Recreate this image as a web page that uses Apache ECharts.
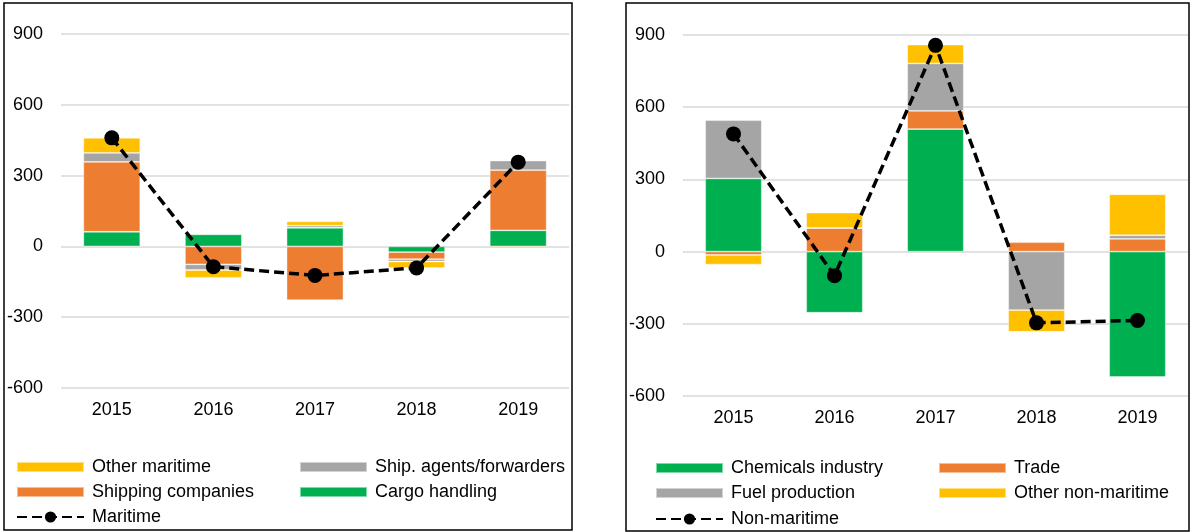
<!DOCTYPE html>
<html>
<head>
<meta charset="utf-8">
<script src="https://cdn.jsdelivr.net/npm/echarts@6/dist/echarts.min.js"></script>
<style>
html,body{margin:0;padding:0;background:#fff;}
#c{width:1192px;height:532px;}
</style>
</head>
<body>
<div id="c"></div>
<script>
var categories = ['2015','2016','2017','2018','2019'];
var yTicks = [-600, -300, 0, 300, 600, 900];

// Left panel: maritime
var cargoHandling     = [62, 51, 79, -24, 68];
var shippingCompanies = [296, -76, -228, -30, 255];
var shipAgents        = [38, -24, 9, -10, 41];
var otherMaritime     = [64, -33, 18, -27, -7];
var maritime          = [460, -86, -123, -91, 357];

// Right panel: non-maritime
var chemicals         = [304, -254, 509, 0, -521];
var trade             = [-14, 98, 76, 39, 53];
var fuelProduction    = [242, 0, 197, -243, 15];
var otherNonMaritime  = [-40, 64, 78, -90, 170];
var nonMaritime       = [489, -100, 857, -296, -286];

var C_GREEN = '#00B050', C_ORANGE = '#ED7D31', C_GRAY = '#A5A5A5', C_YELLOW = '#FFC000';
var FONT = 'Liberation Sans, Arial, sans-serif';

var chart = echarts.init(document.getElementById('c'), null, {renderer:'canvas'});

function xAxis(gi){
  return {type:'category', gridIndex:gi, data:categories,
    axisLine:{show:false}, axisTick:{show:false},
    axisLabel:{color:'#000', fontSize:18, fontFamily:FONT, margin:13},
    splitLine:{show:false}};
}
function yAxis(gi){
  return {type:'value', gridIndex:gi, min:yTicks[0], max:yTicks[yTicks.length-1], interval:300,
    axisLine:{show:false}, axisTick:{show:false},
    axisLabel:{color:'#000', fontSize:18, fontFamily:FONT, margin:18},
    splitLine:{lineStyle:{color:'#D9D9D9', width:1.5}}};
}
function bar(name, data, color, gi, stack){
  return {name:name, type:'bar', xAxisIndex:gi, yAxisIndex:gi, stack:stack, data:data,
    barWidth:'56%', itemStyle:{color:color, borderColor:'rgba(255,255,255,0.5)', borderWidth:0.8},
    emphasis:{disabled:true}, animation:false};
}
function line(name, data, gi){
  return {name:name, type:'line', xAxisIndex:gi, yAxisIndex:gi, data:data,
    symbol:'circle', symbolSize:15, z:10,
    lineStyle:{color:'#000', width:3.5, type:[10,5]},
    itemStyle:{color:'#000'}, emphasis:{disabled:true}, animation:false};
}
function legendItem(name, left, top, isLine){
  var o = {data:[name], left:left, top:top, orient:'horizontal', padding:0,
    itemWidth:67, itemHeight:isLine?14:10, selectedMode:false,
    textStyle:{color:'#000', fontSize:18, fontFamily:FONT, padding:[0,0,0,3]}};
  if(!isLine){ o.icon = 'rect'; }
  return o;
}

var option = {
  animation:false,
  backgroundColor:'#fff',
  grid:[
    {left:61, top:34, width:508, height:354},
    {left:683, top:35, width:505, height:361}
  ],
  xAxis:[xAxis(0), xAxis(1)],
  yAxis:[yAxis(0), yAxis(1)],
  legend:[
    legendItem('Other maritime', 16, 458),
    legendItem('Ship. agents/forwarders', 299, 458),
    legendItem('Shipping companies', 16, 483),
    legendItem('Cargo handling', 299, 483),
    legendItem('Maritime', 16, 508, true),
    legendItem('Chemicals industry', 655, 459),
    legendItem('Trade', 938, 459),
    legendItem('Fuel production', 655, 484),
    legendItem('Other non-maritime', 938, 484),
    legendItem('Non-maritime', 655, 510, true)
  ],
  graphic:[
    {type:'rect', shape:{x:4, y:3, width:568, height:527}, style:{fill:null, stroke:'#000', lineWidth:1.5}, silent:true, z:-1},
    {type:'rect', shape:{x:626, y:3, width:563, height:528}, style:{fill:null, stroke:'#000', lineWidth:1.5}, silent:true, z:-1}
  ],
  series:[
    bar('Cargo handling', cargoHandling, C_GREEN, 0, 'm'),
    bar('Shipping companies', shippingCompanies, C_ORANGE, 0, 'm'),
    bar('Ship. agents/forwarders', shipAgents, C_GRAY, 0, 'm'),
    bar('Other maritime', otherMaritime, C_YELLOW, 0, 'm'),
    line('Maritime', maritime, 0),
    bar('Chemicals industry', chemicals, C_GREEN, 1, 'n'),
    bar('Trade', trade, C_ORANGE, 1, 'n'),
    bar('Fuel production', fuelProduction, C_GRAY, 1, 'n'),
    bar('Other non-maritime', otherNonMaritime, C_YELLOW, 1, 'n'),
    line('Non-maritime', nonMaritime, 1)
  ]
};
chart.setOption(option);
</script>
</body>
</html>
